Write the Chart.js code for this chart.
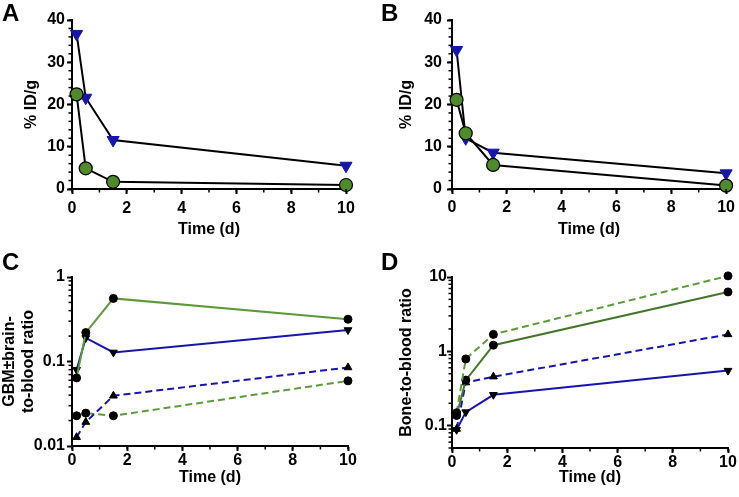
<!DOCTYPE html>
<html>
<head>
<meta charset="utf-8">
<script src="https://cdn.jsdelivr.net/npm/chart.js@4.4.0/dist/chart.umd.min.js"></script>
<style>
body { margin: 0; background: #fff; }
#wrap { position: relative; width: 739px; height: 497px; }
canvas { position: absolute; }
.lbl { position: absolute; font: bold 24px "Liberation Sans", Arial, sans-serif; line-height: 24px; }
</style>
</head>
<body>
<div id="wrap">
    <canvas id="chartA" width="370" height="248" style="left:0;top:0"></canvas>
    <canvas id="chartB" width="369" height="248" style="left:370px;top:0"></canvas>
    <canvas id="chartC" width="370" height="249" style="left:0;top:248px"></canvas>
    <canvas id="chartD" width="369" height="249" style="left:370px;top:248px"></canvas>
    <div class="lbl" style="left:2px;top:1px">A</div>
    <div class="lbl" style="left:381px;top:1px">B</div>
    <div class="lbl" style="left:2px;top:250px">C</div>
    <div class="lbl" style="left:381px;top:250px">D</div>
</div>
<script>
// sampling times (d)
const times = [0.167, 0.5, 1.5, 10];

// A / B : % ID/g
const aTriangle = [36.7, 21.6, 11.6, 5.5];
const aCircle = [22.4, 4.9, 1.7, 0.95];
const bTriangle = [32.9, 12.0, 8.6, 3.7];
const bCircle = [21.1, 13.2, 5.7, 0.8];

// C : GBM/brain-to-blood ratio
const cGreenSolid = [0.064, 0.22, 0.558, 0.316];
const cBlueSolid = [0.08, 0.19, 0.128, 0.236];
const cBlueDashed = [0.0127, 0.0192, 0.0393, 0.085];
const cGreenDashed = [0.0228, 0.0245, 0.0228, 0.059];

// D : bone-to-blood ratio
const dGreenDashed = [0.149, 0.79, 1.69, 10.35];
const dGreenSolid = [0.137, 0.41, 1.21, 6.3];
const dBlueDashed = [0.09, 0.38, 0.456, 1.69];
const dBlueSolid = [0.088, 0.152, 0.26, 0.55];

// tick labels
const xTicks = [0, 2, 4, 6, 8, 10];
const yTicksAB = [0, 10, 20, 30, 40];
const yTicksC = [0.01, 0.1, 1];
const yTicksD = [0.1, 1, 10];

const BLUE = "#1616ad";
const GREEN = "#4f8a2b";
const GREEN_C = "#5c9a3a";
const GREEN_D = "#44762c";

Chart.defaults.font = { family: '"Liberation Sans", Arial, sans-serif', size: 16, weight: "bold" };
Chart.defaults.color = "#000";

function xy(vals) {
    return times.map((t, i) => ({ x: t, y: vals[i] }));
}

// small ticks between the labelled ones
const minorTicks = {
    id: "minorTicks",
    afterDraw(chart) {
        const ctx = chart.ctx;
        ctx.save();
        ctx.strokeStyle = "#000";
        ctx.lineWidth = 1.5;
        for (const id of ["x", "y"]) {
            const s = chart.scales[id];
            const vals = [];
            if (s.type === "logarithmic") {
                const lo = Math.floor(Math.log10(s.min) - 1e-9);
                const hi = Math.ceil(Math.log10(s.max));
                for (let d = lo; d < hi; d++) {
                    for (let k = 2; k <= 9; k++) {
                        const v = k * Math.pow(10, d);
                        if (v >= s.min * 0.999 && v <= s.max) vals.push(v);
                    }
                }
            } else {
                const step = s.options.minorStep;
                for (let v = s.min; v <= s.max + 1e-9; v += step) vals.push(v);
            }
            for (const v of vals) {
                const p = s.getPixelForValue(v);
                ctx.beginPath();
                if (id === "x") {
                    ctx.moveTo(p, s.top);
                    ctx.lineTo(p, s.top + 3.5);
                } else {
                    ctx.moveTo(s.right, p);
                    ctx.lineTo(s.right - 3.5, p);
                }
                ctx.stroke();
            }
        }
        ctx.restore();
    }
};

function makePanel(id, p) {
    new Chart(document.getElementById(id), {
        type: "scatter",
        data: { datasets: p.datasets },
        options: {
            responsive: false,
            animation: false,
            layout: { padding: p.padding },
            plugins: { legend: { display: false }, tooltip: { enabled: false } },
            scales: {
                x: {
                    type: "linear",
                    min: 0,
                    max: 10,
                    minorStep: 1,
                    afterBuildTicks: s => { s.ticks = xTicks.map(v => ({ value: v })); },
                    afterFit: s => { s.height = p.xHeight; },
                    grid: { drawOnChartArea: false, drawTicks: true, tickLength: 5, tickWidth: 2, tickColor: "#000" },
                    border: { color: "#000", width: 2 },
                    ticks: { padding: p.xPad, maxRotation: 0 },
                    title: { display: true, text: "Time (d)", padding: 4 }
                },
                y: {
                    type: p.yType,
                    min: p.yMin,
                    max: p.yMax,
                    minorStep: 2,
                    afterBuildTicks: s => { s.ticks = p.yTicks.map(v => ({ value: v })); },
                    afterFit: s => { s.width = p.yWidth; },
                    grid: { drawOnChartArea: false, drawTicks: true, tickLength: 5, tickWidth: 2, tickColor: "#000" },
                    border: { color: "#000", width: 2 },
                    ticks: { padding: p.yPad, callback: v => String(v) },
                    title: { display: true, text: p.yTitle, padding: p.yTitlePad, font: { size: 16, weight: "bold", lineHeight: 1.2 } }
                }
            }
        },
        plugins: [minorTicks]
    });
}

function uptakeSets(circle, triangle) {
    return [
        {
            data: xy(circle), showLine: true, borderColor: "#000", borderWidth: 2,
            pointStyle: "circle", pointRadius: 6.5, pointBackgroundColor: GREEN,
            pointBorderColor: "#000", pointBorderWidth: 1.2, clip: false
        },
        {
            data: xy(triangle), showLine: true, borderColor: "#000", borderWidth: 2,
            pointStyle: "triangle", rotation: 180, pointRadius: 7, pointBackgroundColor: BLUE,
            pointBorderColor: BLUE, pointBorderWidth: 1, clip: false
        }
    ];
}

function ratioSet(vals, color, dashed, style) {
    return {
        data: xy(vals), showLine: true, borderColor: color, borderWidth: 2,
        borderDash: dashed ? [7, 4] : [],
        pointStyle: style === "circle" ? "circle" : "triangle",
        rotation: style === "down" ? 180 : 0,
        pointRadius: style === "circle" ? 4 : 4.5,
        pointBackgroundColor: "#000", pointBorderColor: "#000", pointBorderWidth: 1, clip: false
    };
}

makePanel("chartA", {
    datasets: uptakeSets(aCircle, aTriangle),
    padding: { left: 18, top: 20, right: 24, bottom: 5 },
    yWidth: 54, xHeight: 54, xPad: 5, yPad: 2, yTitlePad: 4,
    yType: "linear", yMin: 0, yMax: 40, yTicks: yTicksAB, yTitle: "% ID/g"
});

makePanel("chartB", {
    datasets: uptakeSets(bCircle, bTriangle),
    padding: { left: 23, top: 20, right: 12, bottom: 5 },
    yWidth: 59, xHeight: 54, xPad: 4, yPad: 5, yTitlePad: 4,
    yType: "linear", yMin: 0, yMax: 40, yTicks: yTicksAB, yTitle: "% ID/g"
});

makePanel("chartC", {
    datasets: [
        ratioSet(cGreenSolid, GREEN_C, false, "circle"),
        ratioSet(cBlueSolid, BLUE, false, "down"),
        ratioSet(cBlueDashed, BLUE, true, "up"),
        ratioSet(cGreenDashed, GREEN_C, true, "circle")
    ],
    padding: { left: 0, top: 29, right: 22, bottom: 6 },
    yWidth: 72, xHeight: 45, xPad: 0, yPad: 2, yTitlePad: 0,
    yType: "logarithmic", yMin: 0.01, yMax: 1, yTicks: yTicksC, yTitle: ["GBM±brain-", "to-blood ratio"]
});

makePanel("chartD", {
    datasets: [
        ratioSet(dGreenDashed, GREEN_C, true, "circle"),
        ratioSet(dGreenSolid, GREEN_D, false, "circle"),
        ratioSet(dBlueDashed, BLUE, true, "up"),
        ratioSet(dBlueSolid, BLUE, false, "down")
    ],
    padding: { left: 23, top: 29, right: 11, bottom: 6 },
    yWidth: 59, xHeight: 43, xPad: 0, yPad: 0, yTitlePad: 4,
    yType: "logarithmic", yMin: 0.05, yMax: 10, yTicks: yTicksD, yTitle: "Bone-to-blood ratio"
});
</script>
</body>
</html>
